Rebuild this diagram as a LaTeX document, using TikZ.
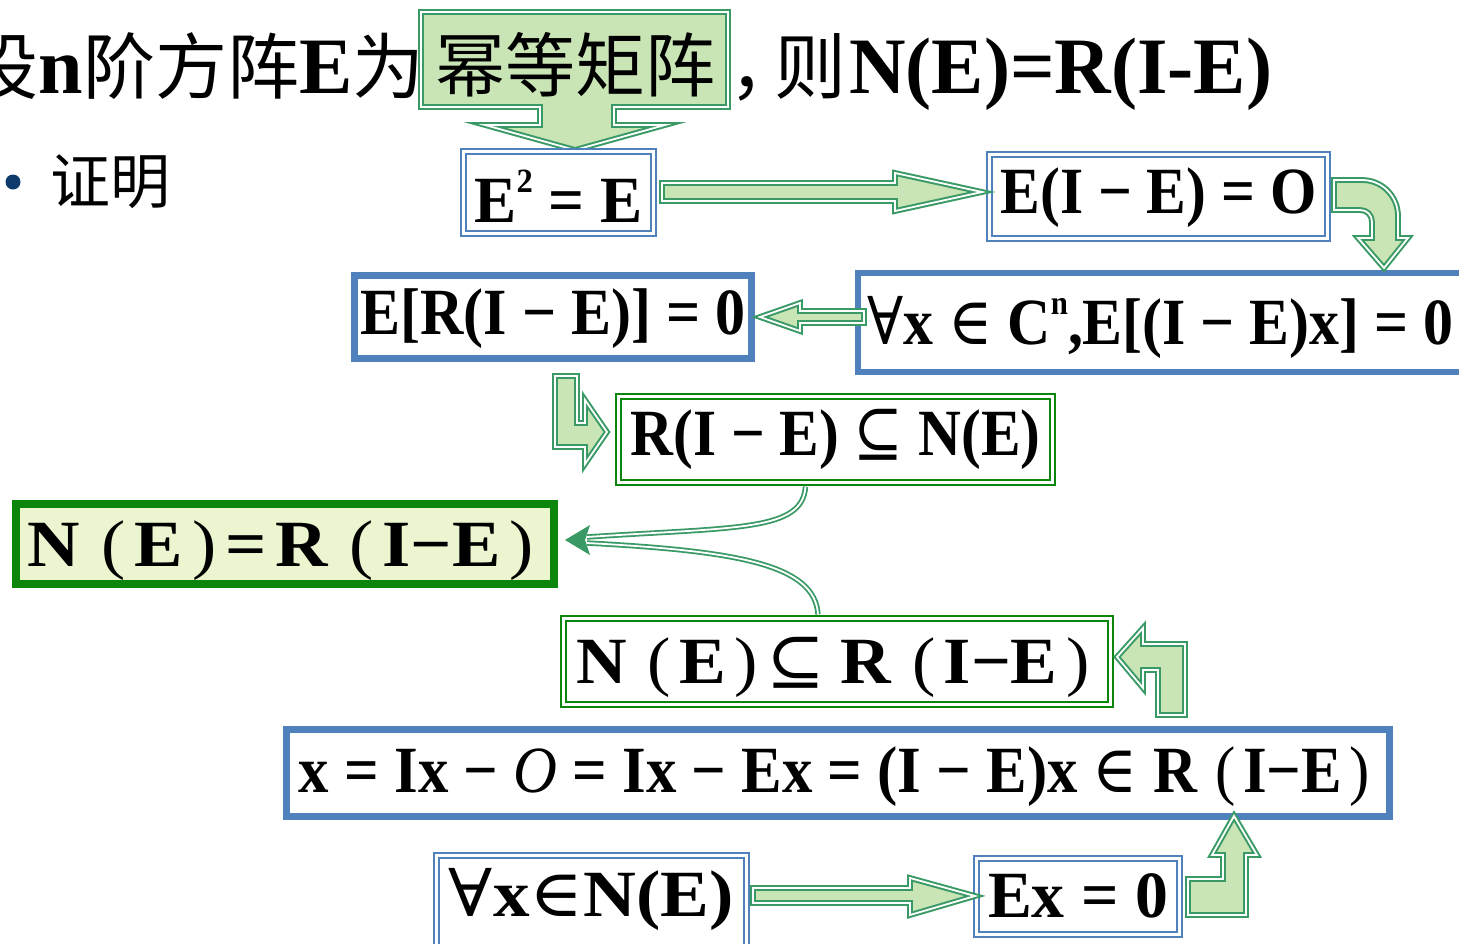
\documentclass[tikz,border=0pt]{standalone}
\usepackage{fontspec}
\usepackage{graphicx}
\usetikzlibrary{calc}
\setmainfont{Liberation Serif}
\newfontfamily\sy{DejaVu Serif}
\newfontfamily\cjk{Noto Sans CJK SC}
\definecolor{boxblue}{HTML}{4F81BD}
\definecolor{boxgreen}{HTML}{0B850B}
\definecolor{agreen}{HTML}{3A9A66}
\definecolor{afill}{HTML}{C9E5B5}
\definecolor{ffill}{HTML}{EBF5CF}
\definecolor{bul}{HTML}{0E3A6C}
\newcommand\fw[2]{\resizebox{#1}{\height}{#2}}
\newcommand\ck[1]{{\cjk\mdseries #1}}
\newcommand\ks[1]{{\sy\mdseries #1}}
\newcommand\lp{\hspace{20pt}{\mdseries(}\hspace{8pt}}
\newcommand\rp{\hspace{8pt}{\mdseries)}\hspace{8pt}}
\newcommand\sups[1]{\raisebox{30pt}{\fontsize{34}{34}\selectfont #1}}
\begin{document}
\begin{tikzpicture}[x=1pt,y=-1pt,
  dblue/.style={draw=boxblue, line width=2.4pt, double=white, double distance=2.4pt, fill=white},
  tblue/.style={draw=boxblue, line width=7pt, fill=white},
  dgreen/.style={draw=boxgreen, line width=2.4pt, double=white, double distance=2.4pt, fill=white},
  tgreen/.style={draw=boxgreen, line width=8pt, fill=ffill},
  blk/.style={draw=agreen, line width=2pt, double=white, double distance=1.8pt, fill=afill, line join=miter},
  curvy/.style={draw=agreen, line width=1.8pt, double=white, double distance=1.8pt},
  mtx/.style={inner sep=0pt, font=\fontsize{66}{72}\selectfont\bfseries, text height=44pt, text depth=0pt},
  ttl/.style={inner sep=0pt, font=\fontsize{80}{90}\selectfont\bfseries}
]
\useasboundingbox (0,0) rectangle (1459,943);

% ---------- title ----------
\node[ttl, anchor=base east] (t1) at (425,93) {\ck{\fontsize{72}{90}\selectfont 设}n\ck{\fontsize{72}{90}\selectfont 阶方阵}E\ck{\fontsize{72}{90}\selectfont 为}};
\draw[blk] (421,12) -- (728,12) -- (728,107) -- (614,107) -- (614,125) -- (665,125) -- (575,150)
  -- (485,125) -- (540,125) -- (540,107) -- (421,107) -- cycle;
\node[ttl, anchor=base] (t2) at (575,91) {\ck{\fontsize{70}{90}\selectfont 幂等矩阵}};
\node[ttl, anchor=base west] (t3) at (729,93) {\ck{\fontsize{72}{90}\selectfont ，}};
\node[ttl, anchor=base west] (t4) at (774,93) {\ck{\fontsize{72}{90}\selectfont 则}};
\node[ttl, anchor=base west] (t5) at (849,93) {\fw{423pt}{N(E)=R(I-E)}};

% ---------- bullet ----------
\fill[bul] (13,182) circle (7.5);
\node[inner sep=0pt, anchor=base west] (zm) at (50,203) {\ck{\fontsize{60}{70}\selectfont 证明}};

% ---------- boxes ----------
\node[dblue, mtx, minimum width=189.8pt, minimum height=81.8pt, text height=59pt] (e2) at (558.5,192.5)
  {\fw{168pt}{E\sups{2} = E}};
\node[dblue, mtx, minimum width=337.8pt, minimum height=83.8pt, text depth=10pt] (eie) at (1158.5,196.5)
  {\fw{316pt}{E(I − E) = O}};
\node[tblue, mtx, minimum width=397pt, minimum height=83pt, text depth=9pt] (er) at (553,317)
  {\fw{385pt}{E[R(I − E)] = 0}};
\node[draw=boxblue, line width=6pt, fill=white, mtx, minimum width=605pt, minimum height=99pt] (fc) at (1160.5,322.5)
  {\fw{586pt}{\ks{∀}x \ks{∈} C\sups{n},E[(I − E)x] = 0}};
\node[dgreen, mtx, minimum width=433.8pt, minimum height=85.8pt, text depth=12pt] (rn) at (835.5,439.5)
  {\fw{410pt}{R(I − E) \ks{⊆} N(E)}};
\node[tgreen, mtx, minimum width=538pt, minimum height=80pt] (nr) at (285,544)
  {\fw{515pt}{N\lp E\rp=\hspace{8pt}R\lp I−E\rp}};
\node[dgreen, mtx, minimum width=546.8pt, minimum height=85.8pt] (nsr) at (837,661.5)
  {\fw{522pt}{N\lp E\rp\ks{⊆}\hspace{14pt}R\lp I−E\rp}};
\node[tblue, mtx, minimum width=1103pt, minimum height=87pt, text depth=6pt] (big) at (838,773)
  {\fw{1078pt}{x = Ix − {\mdseries\itshape O} = Ix − Ex = (I − E)x \ks{∈} R\lp I−E\rp}};
\node[dblue, mtx, minimum width=309.8pt, minimum height=92pt, text depth=15pt] (fn) at (591.5,901.5)
  {\fw{285pt}{\ks{∀}x\ks{∈}N(E)}};
\node[dblue, mtx, minimum width=202.8pt, minimum height=75.8pt, text depth=3pt] (ex) at (1078,896.5)
  {\fw{180pt}{Ex = 0}};

% ---------- block arrows ----------
% E^2=E -> E(I-E)=O
\draw[blk] (662,183) -- (895,183) -- (895,173) -- (982,192) -- (895,211) -- (895,201) -- (662,201) -- cycle;
% E(I-E)=O -> forall x in C^n (bent)
\draw[blk] (1334,180) -- (1362,180) .. controls (1382,180) and (1398,196) .. (1398,216) -- (1398,238)
  -- (1408,238) -- (1384,268) -- (1358,238) -- (1372,238) -- (1372,222)
  .. controls (1372,215) and (1367,210) .. (1360,210) -- (1334,210) -- cycle;
% forall x in C^n -> E[R(I-E)]=0
\draw[blk] (864,311) -- (800,311) -- (800,303) -- (760,317) -- (800,331) -- (800,323) -- (864,323) -- cycle;
% E[R(I-E)]=0 -> R(I-E) in N(E) (bent)
\draw[blk] (555,376) -- (577,376) -- (577,423) -- (585,423) -- (585,400) -- (607,432) -- (585,464)
  -- (585,447) -- (555,447) -- cycle;
% big -> N(E) in R(I-E) (bent, pointing left)
\draw[blk] (1117,657) -- (1143,628) -- (1143,644) -- (1185,644) -- (1185,715) -- (1158,715)
  -- (1158,670) -- (1143,670) -- (1143,688) -- cycle;
% forall x in N(E) -> Ex=0
\draw[blk] (753,888) -- (910,888) -- (910,878) -- (975,896) -- (910,915) -- (910,903) -- (753,903) -- cycle;
% Ex=0 -> big (bent up)
\draw[blk] (1234,816) -- (1257,855) -- (1246,855) -- (1246,915) -- (1188,915) -- (1188,879)
  -- (1223,879) -- (1223,855) -- (1212,855) -- cycle;

% ---------- curved connectors ----------
\coordinate (tip) at ($(nr.east)+(7,-4)$);
\coordinate (hb1) at ($(tip)+(22,-3)$);
\coordinate (hb2) at ($(tip)+(22,3)$);
\draw[curvy] ($(rn.south)+(-30,3)$) .. controls +(-3,45) and +(150,-10) .. (hb1);
\draw[curvy] ($(nsr.north)+(-19,-3)$) .. controls +(-3,-50) and +(150,8) .. (hb2);
\fill[agreen] (tip) -- ($(tip)+(25,-15)$) -- ($(tip)+(20,0)$) -- ($(tip)+(25,15)$) -- cycle;
\end{tikzpicture}
\end{document}
